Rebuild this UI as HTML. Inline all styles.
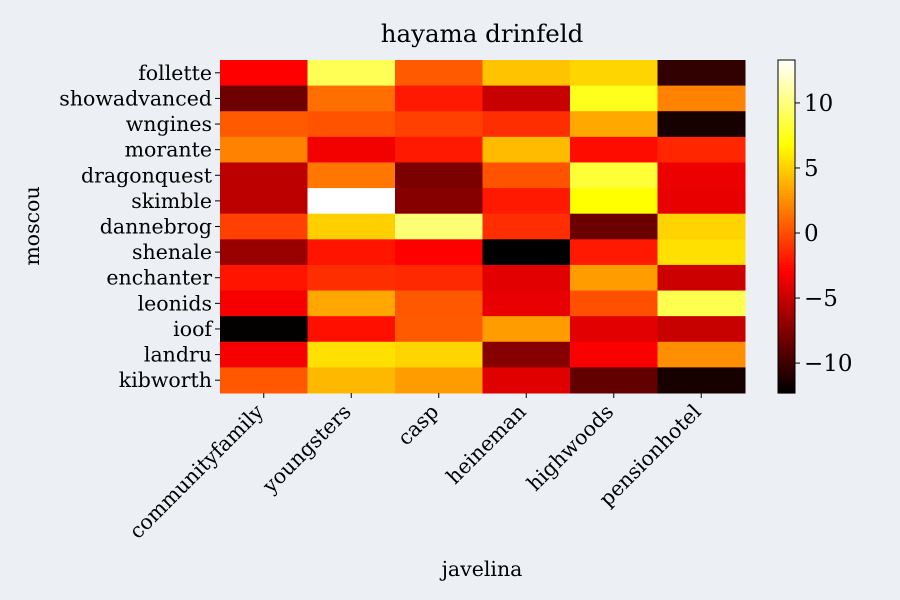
<!DOCTYPE html>
<html><head><meta charset="utf-8"><style>
body{margin:0;background:#eceff4;}
svg{display:block;font-family:"DejaVu Serif","Liberation Serif",serif;}
</style></head><body>
<svg id="chart" width="900" height="600">
<rect width="900" height="600" fill="#eceff4"/>
<text x="482" y="42" text-anchor="middle" font-size="24.5">hayama drinfeld</text>
<text x="482" y="576" text-anchor="middle" font-size="20.5">javelina</text>
<text transform="translate(39,226) rotate(-90)" text-anchor="middle" font-size="20.5">moscou</text>
<g id="cells"></g><g id="xt"></g><g id="yt"></g><g id="cb"></g>
</svg>
<script>
const cols=["communityfamily","youngsters","casp","heineman","highwoods","pensionhotel"];
const rows=["follette","showadvanced","wngines","morante","dragonquest","skimble","dannebrog","shenale","enchanter","leonids","ioof","landru","kibworth"];
const values=[
[-3,9,0.5,4.5,5.2,-10.5],
[-8.3,1.3,-2,-5,7.5,2],
[0.5,0.2,-0.5,-1.2,3.5,-11.5],
[2,-3.4,-2,4.2,-2.5,-1.5],
[-5.4,1.6,-7.8,0.2,8.2,-3.6],
[-5.4,13.3,-7.4,-2,6.8,-3.8],
[-0.5,5,9.8,-1.2,-8.4,5.1],
[-6.7,-2.2,-3,-12.3,-2,5.6],
[-2.2,-1.2,-1.4,-4,3,-4.8],
[-3.3,3.4,0.4,-3.8,0.1,8.8],
[-12.2,-2.4,0.5,3,-4,-5],
[-3.3,5.6,5.2,-7.4,-3.1,2.5],
[0.4,4.1,3,-4.1,-8.7,-11.5]];
const cbTicks=[10,5,0,-5,-10];
const NS="http://www.w3.org/2000/svg";
const X0=220,X1=745,Y0=60,Y1=393;
const flat=values.flat();const vmin=Math.min(...flat),vmax=Math.max(...flat);
function hot(v){let t=(v-vmin)/(vmax-vmin);t=Math.max(0,Math.min(1,t));
const r=Math.min(1,t/0.365),g=Math.max(0,Math.min(1,(t-0.365)/0.381)),b=Math.max(0,Math.min(1,(t-0.746)/0.254));
return `rgb(${Math.round(r*255)},${Math.round(g*255)},${Math.round(b*255)})`;}
const cw=(X1-X0)/cols.length,rh=(Y1-Y0)/rows.length;
function el(tag,attrs,parent){const e=document.createElementNS(NS,tag);for(const k in attrs)e.setAttribute(k,attrs[k]);parent.appendChild(e);return e;}
const cells=document.getElementById('cells');
rows.forEach((rn,i)=>cols.forEach((cn,j)=>{
const r=el('rect',{x:X0+j*cw,y:Y0+i*rh,width:cw+0.5,height:rh+0.5,fill:hot(values[i][j])},cells);


}));
const xt=document.getElementById('xt');
cols.forEach((c,j)=>{const x=X0+(j+0.5)*cw;
el('line',{x1:x,y1:Y1,x2:x,y2:Y1+5,stroke:'#000'},xt);
const t=el('text',{transform:`translate(${x+1},${Y1+20}) rotate(-45)`,'text-anchor':'end','font-size':20.5},xt);
t.textContent=c;

});
const yt=document.getElementById('yt');
rows.forEach((r,i)=>{const y=Y0+(i+0.5)*rh;
el('line',{x1:X0-5,y1:y,x2:X0,y2:y,stroke:'#000'},yt);
const t=el('text',{x:X0-8,y:y+7,'text-anchor':'end','font-size':20.5},yt);
t.textContent=r;

});
const cb=document.getElementById('cb');
const CX=778,CW=17,N=120;
for(let k=0;k<N;k++){const v=vmax-(k+0.5)*(vmax-vmin)/N;
el('rect',{x:CX,y:Y0+k*(Y1-Y0)/N,width:CW,height:(Y1-Y0)/N+0.6,fill:hot(v)},cb);}
const fr=el('rect',{x:CX,y:Y0,width:CW,height:Y1-Y0,fill:'none',stroke:'#000'},cb);


cbTicks.forEach(v=>{const y=Y1-(v-vmin)/(vmax-vmin)*(Y1-Y0);
el('line',{x1:CX+CW,y1:y,x2:CX+CW+5,y2:y,stroke:'#000'},cb);
const t=el('text',{x:CX+CW+9,y:y+8,'font-size':23},cb);
t.textContent=v<0?'\u2212'+(-v):String(v);

});
</script>
</body></html>
